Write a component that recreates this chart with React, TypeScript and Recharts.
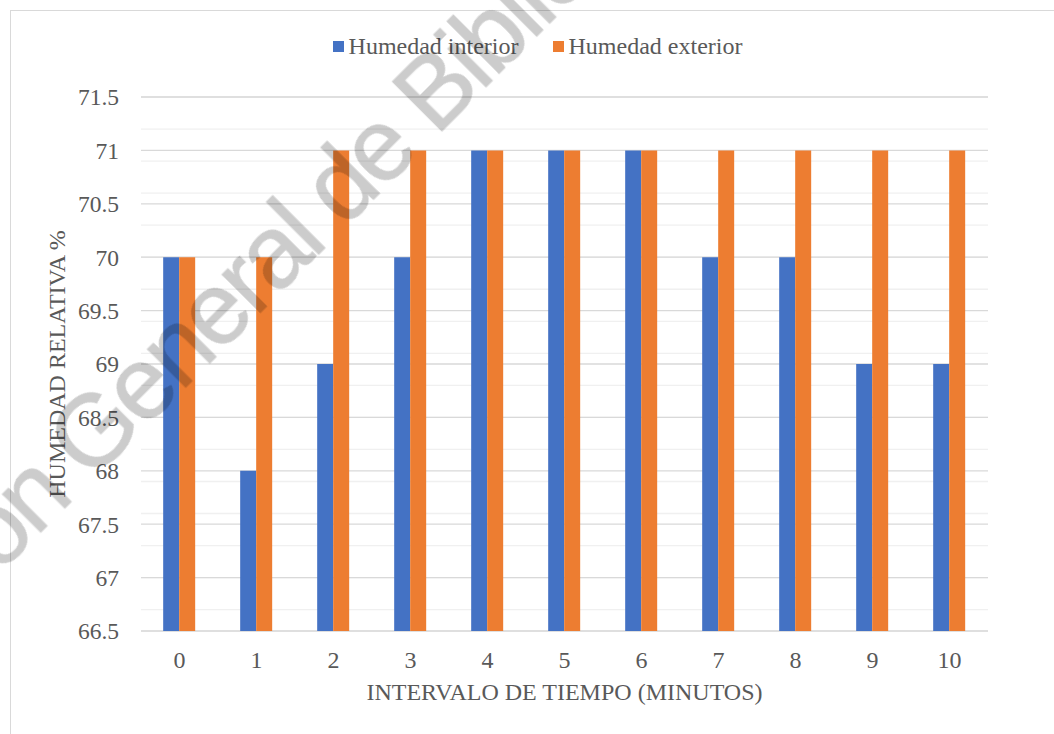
import React from 'react';
import { BarChart, Bar, XAxis, YAxis, CartesianGrid, Legend } from 'recharts';

// Minutes elapsed
const minutes = ['0', '1', '2', '3', '4', '5', '6', '7', '8', '9', '10'];
// Relative humidity readings (%)
const humedadInterior = [70, 68, 69, 70, 71, 71, 71, 70, 70, 69, 69];
const humedadExterior = [70, 70, 71, 71, 71, 71, 71, 71, 71, 71, 71];

// Axis ticks
const leftTicks = [66.5, 67, 67.5, 68, 68.5, 69, 69.5, 70, 70.5, 71, 71.5];
const rightTicks = [0, 0.2, 0.4, 0.6, 0.8, 1, 1.2];

const SERIES = [
  { key: 'interior', name: 'Humedad interior', color: '#4472C4' },
  { key: 'exterior', name: 'Humedad exterior', color: '#ED7D31' },
];

const data = minutes.map((m, i) => ({
  minuto: m,
  interior: humedadInterior[i],
  exterior: humedadExterior[i],
}));

// Minor gridlines every 0.1 between the major 0.5 steps
const minorTicks = Array.from({ length: 51 }, (_, i) => Math.round((66.5 + i * 0.1) * 10) / 10);
// Category boundaries for the tick marks under the axis
const boundaryTicks = minutes.map((_, i) => i - 0.5).concat(minutes.length - 0.5);

const FONT = '"Liberation Serif", "Times New Roman", serif';
const WATERMARK_FONT = '"Liberation Sans", Arial, sans-serif';
const TEXT = '#595959';
const W = 1054;
const H = 734;

// Serif tick label renderer shared by all axes
const makeTick = (anchor: 'start' | 'middle' | 'end', dy: string, size: number) =>
  (props: any) => (
    <text
      x={props.x}
      y={props.y}
      dy={dy}
      textAnchor={anchor}
      fill={TEXT}
      fontSize={size}
      fontFamily={FONT}
      style={{ fontFamily: FONT }}
    >
      {props.payload?.value}
    </text>
  );

const LegendContent = () => (
  <div style={{ position: 'relative', height: 97, width: W }}>
    <div
      style={{
        position: 'absolute',
        left: 10,
        width: 1055,
        top: 33,
        height: 26,
        display: 'flex',
        justifyContent: 'center',
        alignItems: 'center',
        fontFamily: FONT,
        fontSize: 24,
        lineHeight: '26px',
        color: TEXT,
      }}
    >
      {SERIES.map((s, i) => (
        <div key={s.key} style={{ display: 'flex', alignItems: 'center', marginLeft: i ? 34 : 0 }}>
          <span style={{ width: 11, height: 11, background: s.color, display: 'inline-block', marginRight: 5 }} />
          <span>{s.name}</span>
        </div>
      ))}
    </div>
  </div>
);

// Diagonal library stamp laid over the chart
const Watermark = () => {
  const ax = 436;
  const ay = 137;
  const common = {
    x: ax,
    y: ay,
    transform: `rotate(-45, ${ax}, ${ay})`,
    fontFamily: WATERMARK_FONT,
    fontSize: 102,
    letterSpacing: -4,
    fill: '#000000',
    stroke: '#000000',
    strokeWidth: 1,
    style: { fontFamily: WATERMARK_FONT },
  };
  return (
    <svg width={W} height={H} style={{ position: 'absolute', left: 0, top: 0, pointerEvents: 'none' }}>
      <g opacity={0.2}>
        <text {...common} textAnchor="end">
          {'Dirección General de\u00a0'}
        </text>
        <text {...common} textAnchor="start">
          Bibliotecas
        </text>
      </g>
    </svg>
  );
};

export default function App() {
  return (
    <div
      style={{
        position: 'absolute',
        left: 0,
        top: 0,
        width: W,
        height: H,
        overflow: 'hidden',
        background: '#ffffff',
        fontFamily: FONT,
      }}
    >
      <div
        style={{
          position: 'absolute',
          left: 10,
          top: 10,
          width: 1100,
          height: 800,
          border: '1px solid #d9d9d9',
          boxSizing: 'border-box',
        }}
      />
      <div style={{ position: 'absolute', left: 0, top: 0 }}>
        <BarChart
          width={W}
          height={H}
          data={data}
          margin={{ top: 0, right: 0, bottom: 0, left: 0 }}
          barCategoryGap="28.8%"
          barGap={0}
        >
          <Legend
            verticalAlign="top"
            align="center"
            content={<LegendContent />}
            wrapperStyle={{ left: 0, top: 0, width: W }}
          />
          <YAxis
            yAxisId="minor"
            hide
            type="number"
            domain={[66.5, 71.5]}
            ticks={minorTicks}
            allowDataOverflow
          />
          <CartesianGrid xAxisId="cat" yAxisId="minor" vertical={false} stroke="#f0f0f0" strokeWidth={1.3} />
          <CartesianGrid xAxisId="cat" yAxisId="left" vertical={false} stroke="#d9d9d9" strokeWidth={1.3} />
          <XAxis
            xAxisId="bounds"
            type="number"
            domain={[-0.5, 10.5]}
            ticks={boundaryTicks}
            tick={false}
            tickSize={7}
            tickLine={{ stroke: '#d9d9d9', strokeWidth: 1.3 }}
            axisLine={{ stroke: '#d9d9d9', strokeWidth: 1.3 }}
            height={0}
            allowDataOverflow
          />
          <XAxis
            xAxisId="cat"
            dataKey="minuto"
            height={103}
            axisLine={false}
            tickLine={false}
            tickSize={0}
            tickMargin={20}
            interval={0}
            tick={makeTick('middle', '0.71em', 24)}
            label={(props: any) => {
              const vb = props.viewBox || {};
              return (
                <text
                  x={vb.x + vb.width / 2}
                  y={vb.y + 69}
                  textAnchor="middle"
                  fill={TEXT}
                  fontSize={24}
                  fontFamily={FONT}
                  style={{ fontFamily: FONT }}
                >
                  INTERVALO DE TIEMPO (MINUTOS)
                </text>
              );
            }}
          />
          <YAxis
            yAxisId="left"
            type="number"
            width={141}
            domain={[66.5, 71.5]}
            ticks={leftTicks}
            axisLine={false}
            tickLine={false}
            tickSize={0}
            tickMargin={22}
            interval={0}
            allowDataOverflow
            tick={makeTick('end', '0.355em', 23.5)}
            label={(props: any) => {
              const vb = props.viewBox || {};
              const cx = vb.x + 57;
              const cy = vb.y + vb.height / 2;
              return (
                <text
                  x={cx}
                  y={cy}
                  transform={`rotate(-90, ${cx}, ${cy})`}
                  textAnchor="middle"
                  dominantBaseline="central"
                  fill={TEXT}
                  fontSize={24}
                  fontFamily={FONT}
                  style={{ fontFamily: FONT }}
                >
                  HUMEDAD RELATIVA %
                </text>
              );
            }}
          />
          <YAxis
            yAxisId="right"
            orientation="right"
            type="number"
            width={66}
            domain={[0, 1.2]}
            ticks={rightTicks}
            axisLine={false}
            tickLine={false}
            tickSize={0}
            tickMargin={22}
            interval={0}
            tick={makeTick('start', '0.355em', 23.5)}
          />
          {SERIES.map((s) => (
            <Bar
              key={s.key}
              dataKey={s.key}
              name={s.name}
              xAxisId="cat"
              yAxisId="left"
              fill={s.color}
              isAnimationActive={false}
            />
          ))}
        </BarChart>
      </div>
      <Watermark />
    </div>
  );
}
